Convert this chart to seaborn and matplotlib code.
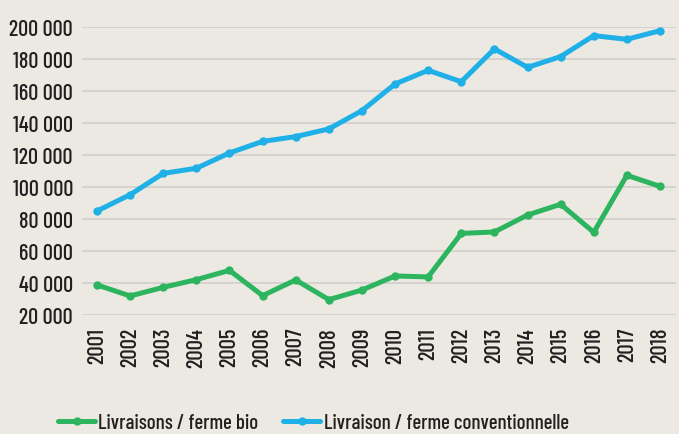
import matplotlib
matplotlib.use("Agg")
import matplotlib.pyplot as plt
from matplotlib.lines import Line2D
import seaborn as sns
import pandas as pd

years = list(range(2001, 2019))
bio = [38800, 31900, 37300, 42100, 47900, 32100, 41900, 29600, 35600,
       44400, 43800, 71000, 71900, 82500, 89200, 71700, 107300, 100400]
conventionnelle = [85000, 95200, 108500, 111700, 121300, 128500, 131500, 136300, 147700,
                   164400, 172900, 165800, 186300, 174800, 181500, 194600, 192300, 197700]
series_names = ["Livraisons / ferme bio", "Livraison / ferme conventionnelle"]
y_ticks = [20000, 40000, 60000, 80000, 100000, 120000, 140000, 160000, 180000, 200000]

df = pd.DataFrame({
    "annee": years * 2,
    "valeur": bio + conventionnelle,
    "serie": [series_names[0]] * len(years) + [series_names[1]] * len(years),
})

bg = "#ece9e2"
ink = "#231f20"
sns.set_theme(style="white")
plt.rcParams["font.family"] = ["Barlow Condensed", "DejaVu Sans"]
plt.rcParams["font.weight"] = "medium"

fig = plt.figure(figsize=(6.79, 4.35), dpi=100, facecolor=bg)
ax = fig.add_axes([82 / 679, 1 - 316 / 435, (676 - 82) / 679, (316 - 28) / 435])
ax.set_facecolor(bg)

palette = {series_names[0]: "#2db45e", series_names[1]: "#1eb0e6"}
sns.lineplot(data=df, x="annee", y="valeur", hue="serie", palette=palette,
             marker="o", markersize=6, markeredgewidth=0, linewidth=3.6,
             ax=ax, legend=False, clip_on=False, zorder=3)

ax.set_xlim(2000.547, 2018.483)
ax.set_ylim(20000, 200000)
ax.set_xticks(years)
ax.set_xticklabels([str(y) for y in years], rotation=90, fontsize=16.5, color=ink)
ax.set_yticks(y_ticks)
ax.set_yticklabels([f"{v:,}".replace(",", " ") for v in y_ticks], fontsize=16, color=ink)
ax.tick_params(axis="y", length=0, pad=6.5)
ax.tick_params(axis="x", length=0, pad=8.5)
ax.yaxis.grid(True, color="#d2d1cf", linewidth=1.3)
ax.xaxis.grid(False)
ax.set_xlabel("")
ax.set_ylabel("")
for s in ax.spines.values():
    s.set_visible(False)

handles = [Line2D([], [], color=palette[n], linewidth=3.6, marker="o", markersize=6,
                  markeredgewidth=0) for n in series_names]
fig.legend(handles, series_names, loc="center left", bbox_to_anchor=(58 / 679, 1 - 424 / 435),
           ncol=2, frameon=False, fontsize=15, handlelength=1.78, handletextpad=0.15,
           columnspacing=1.2, labelcolor=ink, borderaxespad=0, borderpad=0)

fig.savefig("out.png", dpi=100, facecolor=bg)
